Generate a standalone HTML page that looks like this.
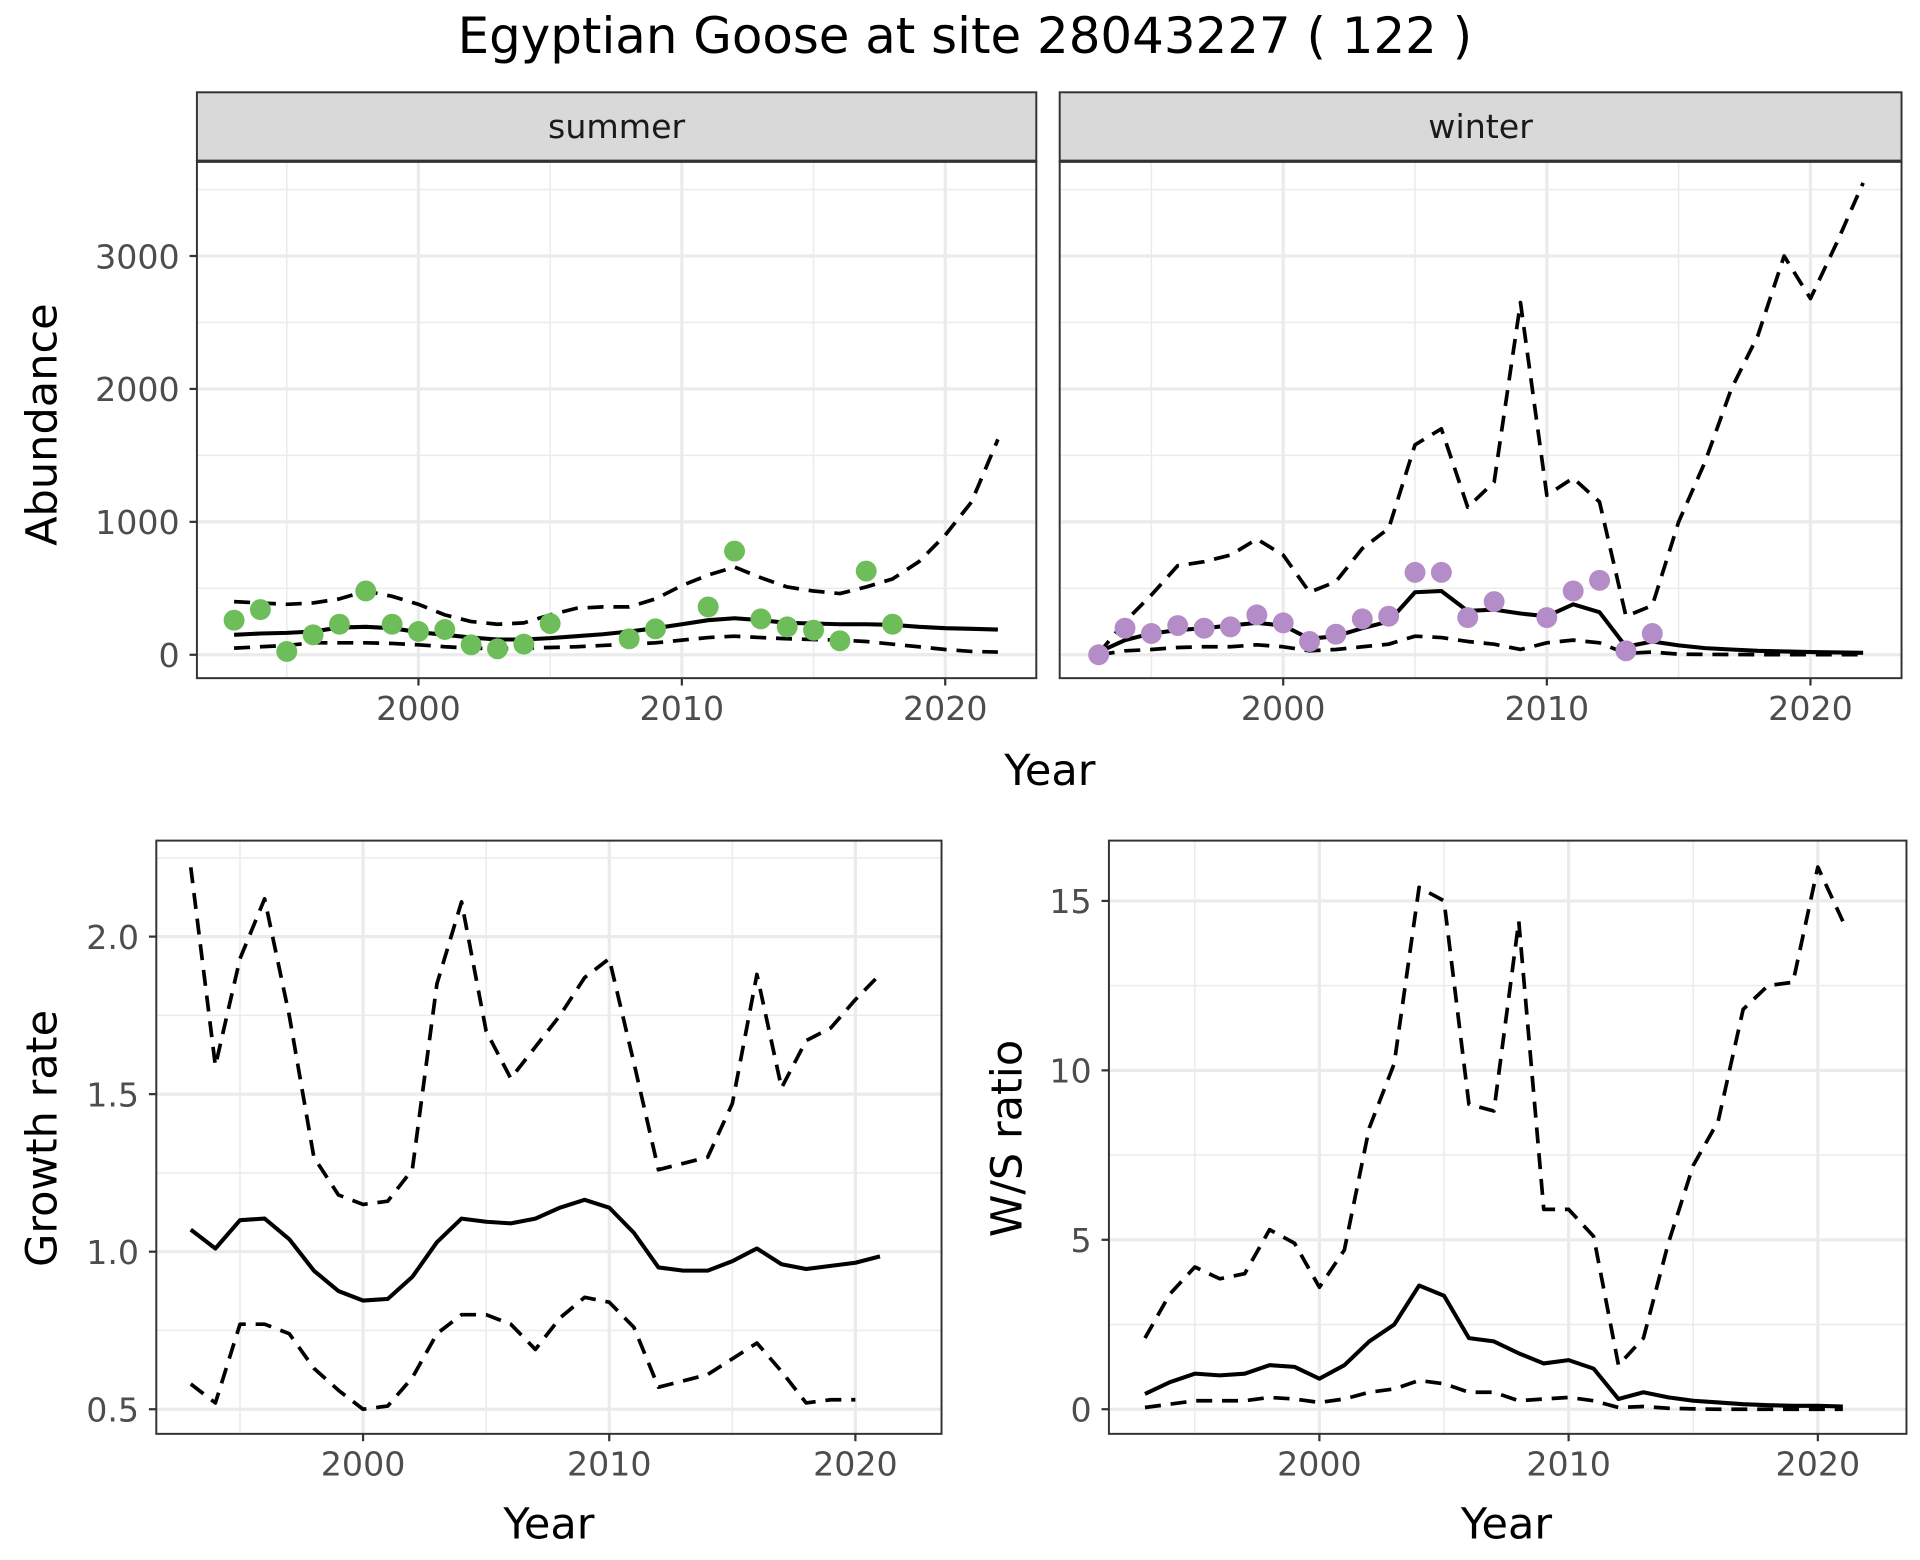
<!DOCTYPE html>
<html><head><meta charset="utf-8"><style>
html,body{margin:0;padding:0;background:#fff;}
svg{display:block;font-family:"DejaVu Sans","Liberation Sans",sans-serif;}
</style></head><body>
<svg id="chart" width="1920" height="1560" viewBox="0 0 1560 1267.5" xmlns="http://www.w3.org/2000/svg">
<rect width="1560" height="1267.5" fill="#fff"/>
<text x="784" y="43" font-size="40.5" text-anchor="middle" fill="#000">Egyptian Goose at site 28043227 ( 122 )</text>
<g id="layer"></g>
</svg>
<script>
const years = [1993,1994,1995,1996,1997,1998,1999,2000,2001,2002,2003,2004,2005,2006,2007,2008,2009,2010,2011,2012,2013,2014,2015,2016,2017,2018,2019,2020,2021,2022];
const summerObsYears = [1993,1994,1995,1996,1997,1998,1999,2000,2001,2002,2003,2004,2005,2008,2009,2011,2012,2013,2014,2015,2016,2017,2018];
const summerObs = [260,340,25,150,230,480,230,175,190,75,45,80,235,120,195,360,780,270,210,185,105,630,230];
const summerMean = [150,160,165,175,205,210,200,170,150,130,115,115,125,140,155,175,200,230,260,275,260,240,235,230,230,225,210,200,195,190];
const summerUpper = [400,390,380,390,420,480,440,380,300,250,230,240,300,350,360,360,420,520,600,660,580,510,480,460,510,570,700,900,1150,1620];
const summerLower = [50,60,70,90,90,90,85,75,60,50,45,50,55,60,70,80,90,110,130,140,130,120,115,110,100,80,60,40,25,20];
const winterObsYears = [1993,1994,1995,1996,1997,1998,1999,2000,2001,2002,2003,2004,2005,2006,2007,2008,2010,2011,2012,2013,2014];
const winterObs = [0,200,160,220,200,210,300,240,100,155,270,290,620,620,280,400,280,480,560,30,160];
const winterMean = [20,110,160,185,200,220,240,220,120,140,200,250,470,480,330,340,310,290,380,320,60,100,70,50,40,30,25,20,18,15];
const winterUpper = [10,250,450,670,700,750,870,750,470,550,800,950,1580,1700,1110,1300,2650,1200,1330,1150,290,370,1000,1450,2000,2400,3000,2680,3100,3550];
const winterLower = [0,30,40,55,60,60,75,60,30,40,60,80,140,130,100,80,40,90,110,90,10,20,5,3,2,1,1,1,1,1];
const gYears = [1993,1994,1995,1996,1997,1998,1999,2000,2001,2002,2003,2004,2005,2006,2007,2008,2009,2010,2011,2012,2013,2014,2015,2016,2017,2018,2019,2020,2021];
const growthMean = [1.07,1.01,1.10,1.105,1.04,0.94,0.875,0.845,0.85,0.92,1.03,1.105,1.095,1.09,1.105,1.14,1.165,1.14,1.06,0.95,0.94,0.94,0.97,1.01,0.96,0.945,0.955,0.965,0.985];
const growthUpper = [2.22,1.59,1.93,2.12,1.75,1.30,1.18,1.15,1.16,1.26,1.85,2.11,1.70,1.55,1.65,1.75,1.87,1.93,1.60,1.26,1.28,1.30,1.47,1.88,1.52,1.67,1.71,1.80,1.88];
const growthLower = [0.58,0.52,0.77,0.77,0.74,0.63,0.56,0.50,0.51,0.60,0.74,0.80,0.80,0.77,0.69,0.79,0.855,0.84,0.76,0.57,0.59,0.61,0.66,0.71,0.62,0.52,0.53,0.53];
const wsMean = [0.45,0.8,1.05,1.0,1.05,1.3,1.25,0.9,1.3,2.0,2.5,3.65,3.35,2.1,2.0,1.65,1.35,1.45,1.2,0.3,0.5,0.35,0.25,0.2,0.15,0.12,0.1,0.1,0.08];
const wsUpper = [2.1,3.4,4.2,3.85,4.0,5.3,4.9,3.6,4.7,8.3,10.2,15.4,15.0,9.0,8.8,14.4,5.9,5.9,5.1,1.3,2.1,4.9,7.2,8.5,11.8,12.5,12.6,16.0,14.4];
const wsLower = [0.05,0.15,0.25,0.25,0.25,0.35,0.3,0.2,0.3,0.5,0.6,0.85,0.75,0.5,0.5,0.25,0.3,0.35,0.25,0.05,0.08,0.03,0.01,0.0,0.0,0.0,0.0,0.0,0.0];
const abundTicks = [0,1000,2000,3000];
const abundMinor = [500,1500,2500,3500];
const yearTicks = [2000,2010,2020];
const yearMinor = [1995,2005,2015];
const growthTicks = [0.5,1.0,1.5,2.0];
const growthMinor = [0.75,1.25,1.75,2.25];
const wsTicks = [0,5,10,15];
const wsMinor = [2.5,7.5,12.5];

const NS='http://www.w3.org/2000/svg';
const layer=document.getElementById('layer');
function mk(tag,attrs,parent){const e=document.createElementNS(NS,tag);for(const k in attrs)e.setAttribute(k,attrs[k]);(parent||layer).appendChild(e);return e;}
function lin(d0,d1,r0,r1){return v=>r0+(v-d0)*(r1-r0)/(d1-d0);}

function panel(p){
  const g=mk('g',{});
  
  
  mk('rect',{x:p.x0,y:p.y0,width:p.x1-p.x0,height:p.y1-p.y0,fill:'#fff'},g);
  p.yMinor.forEach(v=>{const y=p.ys(v);if(y>p.y0&&y<p.y1)mk('line',{x1:p.x0,x2:p.x1,y1:y,y2:y,stroke:'#EBEBEB','stroke-width':1.2},g);});
  yearMinor.forEach(v=>{const x=p.xs(v);mk('line',{x1:x,x2:x,y1:p.y0,y2:p.y1,stroke:'#EBEBEB','stroke-width':1.2},g);});
  p.yTicks.forEach(v=>{const y=p.ys(v);mk('line',{x1:p.x0,x2:p.x1,y1:y,y2:y,stroke:'#EBEBEB','stroke-width':2.6},g);});
  yearTicks.forEach(v=>{const x=p.xs(v);mk('line',{x1:x,x2:x,y1:p.y0,y2:p.y1,stroke:'#EBEBEB','stroke-width':2.6},g);});
  return g;
}
function axes(p,g,showY,yLabels){
  mk('rect',{x:p.x0,y:p.y0,width:p.x1-p.x0,height:p.y1-p.y0,fill:'none',stroke:'#333','stroke-width':1.6},g);
  yearTicks.forEach(v=>{const x=p.xs(v);
    mk('line',{x1:x,x2:x,y1:p.y1,y2:p.y1+6,stroke:'#333','stroke-width':1.8},g);
    const t=mk('text',{x:x,y:p.y1+34,'font-size':27,'text-anchor':'middle',fill:'#4D4D4D'},g);t.textContent=v;
    
    
  });
  if(showY){p.yTicks.forEach((v,i)=>{const y=p.ys(v);
    mk('line',{x1:p.x0-6,x2:p.x0,y1:y,y2:y,stroke:'#333','stroke-width':1.8},g);
    const t=mk('text',{x:p.x0-14,y:y+10,'font-size':27,'text-anchor':'end',fill:'#4D4D4D'},g);t.textContent=yLabels[i];
    
    
  });}
}
function line(p,g,xs,ys,dashed,name){
  let d='';let started=false;
  xs.forEach((x,i)=>{if(ys[i]===undefined||ys[i]===null)return;d+=(started?'L':'M')+p.xs(x).toFixed(1)+','+p.ys(ys[i]).toFixed(1);started=true;});
  const e=mk('path',{d:d,fill:'none',stroke:'#000','stroke-width':dashed?3:3.3,'stroke-dasharray':dashed?'13 8':'none','stroke-linejoin':'round'},g);
  
  
}
function points(p,g,xs,ys,col,name){
  xs.forEach((x,i)=>{const c=mk('circle',{cx:p.xs(x),cy:p.ys(ys[i]),r:8.5,fill:col},g);
    
    
  });
}
function strip(x0,x1,label,name){
  const g=mk('g',{});
  
  
  mk('rect',{x:x0,y:75,width:x1-x0,height:56,fill:'#D9D9D9',stroke:'#333','stroke-width':1.6},g);
  mk('line',{x1:x0,x2:x1,y1:131,y2:131,stroke:'#333','stroke-width':2.6},g);
  const t=mk('text',{x:(x0+x1)/2,y:112,'font-size':27,'text-anchor':'middle',fill:'#1A1A1A'},g);t.textContent=label;
}
function label(x,y,txt,rot,name){
  const t=mk('text',{x:x,y:y,'font-size':35,'text-anchor':'middle',fill:'#000',transform:rot?`rotate(-90 ${x} ${y})`:''});t.textContent=txt;
  
  
}

const pS={name:'summer-panel',x0:160,x1:842,y0:131,y1:551,xs:lin(2000,2020,340,768),ys:lin(0,1000,532,424),yTicks:abundTicks,yMinor:abundMinor};
let g=panel(pS);
line(pS,g,years,summerUpper,true,'summer-upper-ci');
line(pS,g,years,summerLower,true,'summer-lower-ci');
line(pS,g,years,summerMean,false,'summer-mean');
points(pS,g,summerObsYears,summerObs,'#6DBE5A','summer-count-point');
axes(pS,g,true,['0','1000','2000','3000']);
strip(160,842,'summer','summer-strip');
const pW={name:'winter-panel',x0:861,x1:1545,y0:131,y1:551,xs:lin(2000,2020,1042.6,1471),ys:lin(0,1000,532,424),yTicks:abundTicks,yMinor:abundMinor};
g=panel(pW);
line(pW,g,years,winterUpper,true,'winter-upper-ci');
line(pW,g,years,winterLower,true,'winter-lower-ci');
line(pW,g,years,winterMean,false,'winter-mean');
points(pW,g,winterObsYears,winterObs,'#B48CC8','winter-count-point');
axes(pW,g,false,[]);
strip(861,1545,'winter','winter-strip');
label(853,638,'Year',false,'top-x-axis-title');
label(46,345,'Abundance',true,'abundance-y-axis-title');
const pG={name:'growth-panel',x0:127,x1:765,y0:683,y1:1165,xs:lin(2000,2020,295,695),ys:lin(0.5,2.0,1145,761),yTicks:growthTicks,yMinor:growthMinor};
g=panel(pG);
line(pG,g,gYears,growthUpper,true,'growth-upper-ci');
line(pG,g,gYears,growthLower,true,'growth-lower-ci');
line(pG,g,gYears,growthMean,false,'growth-mean');
axes(pG,g,true,['0.5','1.0','1.5','2.0']);
label(446,1250,'Year',false,'growth-x-axis-title');
label(46,925,'Growth rate',true,'growth-y-axis-title');
const pR={name:'ws-ratio-panel',x0:901,x1:1549,y0:683,y1:1165,xs:lin(2000,2020,1072,1477),ys:lin(0,15,1145,732),yTicks:wsTicks,yMinor:wsMinor};
g=panel(pR);
line(pR,g,gYears,wsUpper,true,'ws-upper-ci');
line(pR,g,gYears,wsLower,true,'ws-lower-ci');
line(pR,g,gYears,wsMean,false,'ws-mean');
axes(pR,g,true,['0','5','10','15']);
label(1224,1250,'Year',false,'ws-x-axis-title');
label(830,925,'W/S ratio',true,'ws-y-axis-title');
</script>
</body></html>
